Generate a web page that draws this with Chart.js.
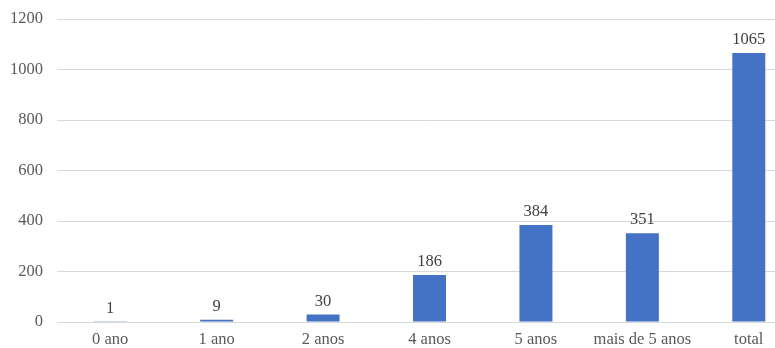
<!DOCTYPE html>
<html>
<head>
<meta charset="utf-8">
<script src="https://cdn.jsdelivr.net/npm/chart.js@4/dist/chart.umd.min.js"></script>
<style>
  html, body { margin: 0; padding: 0; background: #fff; overflow: hidden; }
  #wrap { width: 775px; height: 348px; overflow: hidden; }
</style>
</head>
<body>
<div id="wrap"><canvas id="chart" width="802" height="348"></canvas></div>
<script>
const categories = ["0 ano", "1 ano", "2 anos", "4 anos", "5 anos", "mais de 5 anos", "total"];
const values = [1, 9, 30, 186, 384, 351, 1065];
const yTicks = [0, 200, 400, 600, 800, 1000, 1200];

const FONT = "'Liberation Serif', 'DejaVu Serif', serif";
const FONT_SIZE = 16.5;

// value written above each bar
const barLabels = {
  id: "barLabels",
  afterDatasetsDraw(chart) {
    const ctx = chart.ctx;
    const meta = chart.getDatasetMeta(0);
    ctx.save();
    ctx.font = FONT_SIZE + "px " + FONT;
    ctx.fillStyle = "#404040";
    ctx.textAlign = "center";
    ctx.textBaseline = "bottom";
    meta.data.forEach((bar, i) => {
      ctx.fillText(String(values[i]), bar.x, bar.y - 5);
    });
    ctx.restore();
  },
};

new Chart(document.getElementById("chart"), {
  type: "bar",
  data: {
    labels: categories,
    datasets: [
      {
        data: values,
        backgroundColor: "#4472C4",
        barPercentage: 0.62,
        categoryPercentage: 0.5,
      },
    ],
  },
  options: {
    responsive: false,
    animation: false,
    layout: { padding: { top: 19, left: 0, right: 0, bottom: 0 } },
    plugins: {
      legend: { display: false },
      tooltip: { enabled: false },
    },
    scales: {
      y: {
        min: 0,
        max: 1200,
        afterBuildTicks: (scale) => {
          scale.ticks = yTicks.map((v) => ({ value: v }));
        },
        afterFit: (scale) => {
          scale.width = 57;
          scale.paddingTop = 0;
          scale.paddingBottom = 0;
        },
        grid: { color: "#d9d9d9", drawTicks: false },
        border: { display: false },
        ticks: {
          color: "#595959",
          padding: 14,
          callback: (v) => String(v),
          font: { family: FONT, size: FONT_SIZE },
        },
      },
      x: {
        afterFit: (scale) => {
          scale.height = 26;
        },
        grid: { display: false, drawTicks: false },
        border: { color: "#d9d9d9" },
        ticks: {
          color: "#595959",
          padding: 8,
          maxRotation: 0,
          autoSkip: false,
          font: { family: FONT, size: FONT_SIZE },
        },
      },
    },
  },
  plugins: [barLabels],
});
</script>
</body>
</html>
